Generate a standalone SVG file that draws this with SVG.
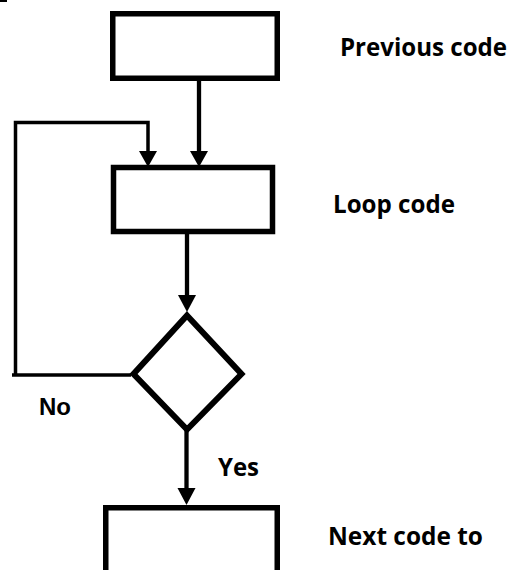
<svg xmlns="http://www.w3.org/2000/svg" width="513" height="570" viewBox="0 0 513 570">
<style>
.box{fill:none;stroke:#000;stroke-width:5.5;stroke-linejoin:miter}
.dia{fill:none;stroke:#000;stroke-width:6;stroke-linejoin:miter}
.ln{fill:none;stroke:#000;stroke-width:4.3}
.loop{fill:none;stroke:#000;stroke-width:3.5;stroke-linejoin:miter}
.lbl{font-family:"Open Sans","Liberation Sans",sans-serif;font-weight:bold;font-size:25px;fill:#000}
.lbl2{font-family:"Liberation Sans",Arial,sans-serif;font-weight:bold;font-size:24px;fill:#000}
.head{fill:#000}
</style>
<rect x="0" y="0" width="7" height="2" fill="#000"/>
<g id="previous">
<rect class="box" x="112.75" y="13.75" width="164.5" height="64.5"/>
<text class="lbl" x="340" y="56" textLength="167" lengthAdjust="spacingAndGlyphs">Previous code</text>
</g>
<g id="loop">
<rect class="box" x="113.5" y="167.5" width="159" height="64"/>
<text class="lbl" x="333" y="213" textLength="122" lengthAdjust="spacingAndGlyphs">Loop code</text>
</g>
<g id="decision">
<polygon class="dia" points="187,315.5 241.5,374 187,429.5 133.5,374"/>
</g>
<g id="next">
<path class="box" d="M105.75,570 V507.75 H277.25 V570"/>
<text class="lbl" x="328" y="545" textLength="155" lengthAdjust="spacingAndGlyphs">Next code to</text>
</g>
<g id="connectors">
<line class="ln" x1="199" y1="80" x2="199" y2="153"/>
<polygon class="head" points="190,151 208,151 199,167"/>
<path class="loop" d="M15.5,376 V122.5 H148 V153"/>
<polygon class="head" points="139,151 157,151 148,167"/>
<line class="loop" x1="12" y1="375" x2="131" y2="375"/>
<line class="ln" x1="187" y1="233" x2="187" y2="297"/>
<polygon class="head" points="178,295 196,295 187,312"/>
<line class="ln" x1="186.5" y1="430" x2="186.5" y2="490"/>
<polygon class="head" points="177.5,488 195.5,488 186.5,505"/>
<text class="lbl" x="218" y="476" textLength="41" lengthAdjust="spacingAndGlyphs">Yes</text>
<text class="lbl2" x="39" y="415">No</text>
</g>
</svg>
